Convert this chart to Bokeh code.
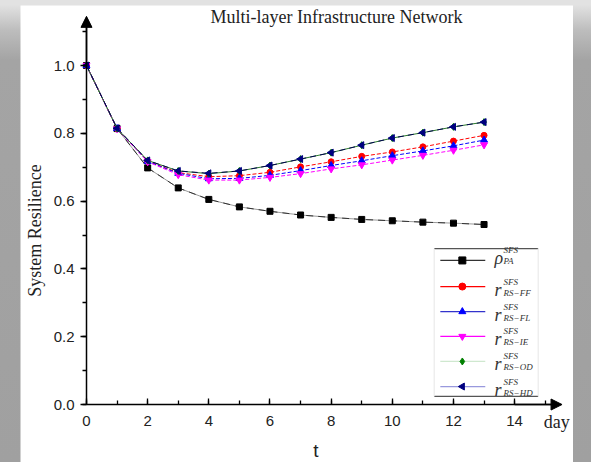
from bokeh.plotting import figure
from bokeh.layouts import column
from bokeh.models import Arrow, NormalHead, FixedTicker, NumeralTickFormatter
from bokeh.core.properties import value
from bokeh.embed import file_html
from bokeh.resources import INLINE
import math

# ---- data ----
t = list(range(14))
pa = [1.0, 0.814, 0.698, 0.639, 0.605, 0.583, 0.570, 0.559, 0.552, 0.546, 0.542, 0.538, 0.535, 0.531]
ff = [1.0, 0.814, 0.718, 0.684, 0.672, 0.675, 0.685, 0.701, 0.716, 0.732, 0.745, 0.760, 0.777, 0.794]
fl = [1.0, 0.814, 0.717, 0.682, 0.666, 0.667, 0.676, 0.690, 0.705, 0.719, 0.734, 0.748, 0.763, 0.780]
ie = [1.0, 0.813, 0.716, 0.678, 0.662, 0.662, 0.670, 0.681, 0.695, 0.707, 0.721, 0.735, 0.750, 0.766]
od = [1.0, 0.814, 0.720, 0.689, 0.681, 0.689, 0.705, 0.724, 0.743, 0.765, 0.786, 0.802, 0.819, 0.833]
hd = [1.0, 0.815, 0.720, 0.689, 0.682, 0.689, 0.705, 0.724, 0.743, 0.765, 0.786, 0.802, 0.819, 0.833]

x_ticks = [0, 2, 4, 6, 8, 10, 12, 14]
y_ticks = [0.0, 0.2, 0.4, 0.6, 0.8, 1.0]

leg_main = ["ρ", "r", "r", "r", "r", "r"]
leg_sup = ["SFS", "SFS", "SFS", "SFS", "SFS", "SFS"]
leg_sub = ["PA", "RS−FF", "RS−FL", "RS−IE", "RS−OD", "RS−HD"]

SERIF = "Liberation Serif"
SANS = "Liberation Sans"

# frame covers the whole figure; axes are pinned at 0
p = figure(width=553, height=457, x_range=(-2.158, 15.925), y_range=(-0.171, 1.177),
           output_backend="svg", toolbar_location=None,
           min_border_left=0, min_border_right=0, min_border_top=0, min_border_bottom=0)
p.margin = (5, 18, 0, 20)
p.outline_line_color = None
p.grid.visible = False
p.background_fill_color = "white"
p.border_fill_color = "white"

for ax in (p.xaxis[0], p.yaxis[0]):
    ax.fixed_location = 0
    ax.axis_line_color = "black"
    ax.axis_line_width = 1.5
    ax.major_tick_line_color = "black"
    ax.minor_tick_line_color = "black"
    ax.major_tick_line_width = 1.3
    ax.minor_tick_line_width = 1.3
    ax.major_label_text_font = SANS
    ax.major_label_text_font_size = "15px"
    ax.major_label_text_color = "#222222"

p.xaxis.bounds = (0, 15.4)
p.xaxis.ticker = FixedTicker(ticks=x_ticks, minor_ticks=list(range(0, 16)))
p.xaxis.major_tick_in = 6
p.xaxis.major_tick_out = 0
p.xaxis.minor_tick_in = 4
p.xaxis.minor_tick_out = 0
p.xaxis.major_label_standoff = 11

p.yaxis.bounds = (0, 1.13)
p.yaxis.ticker = FixedTicker(ticks=y_ticks, minor_ticks=[round(0.1 * i, 1) for i in range(12)])
p.yaxis.formatter = NumeralTickFormatter(format="0.0")
p.yaxis.major_tick_in = 0
p.yaxis.major_tick_out = 6
p.yaxis.minor_tick_in = 0
p.yaxis.minor_tick_out = 4
p.yaxis.major_label_standoff = 6

# axis arrows
p.add_layout(Arrow(end=NormalHead(size=11, fill_color="black", line_color="black"),
                   x_start=0, y_start=1.0, x_end=0, y_end=1.145, line_width=1.5, line_color="black"))
p.add_layout(Arrow(end=NormalHead(size=11, fill_color="black", line_color="black"),
                   x_start=14, y_start=0, x_end=15.55, y_end=0, line_width=1.5, line_color="black"))

# series
p.line(t, pa, line_color="#999999", line_width=1)
p.line(t, pa, line_color="#333333", line_width=1, line_dash="7 5")
p.scatter(t, pa, marker="square", size=6, fill_color="black", line_color="black")

p.line(t, ff, line_color="red", line_width=1, line_dash="4 2")
p.scatter(t, ff, marker="circle", size=6, fill_color="red", line_color="red")

p.line(t, fl, line_color="blue", line_width=1, line_dash="4 2")
p.scatter(t, fl, marker="triangle", size=7, fill_color="blue", line_color="blue")

p.line(t, ie, line_color="magenta", line_width=1, line_dash="4 2")
p.scatter(t, ie, marker="inverted_triangle", size=7, fill_color="magenta", line_color="magenta")

p.line(t, od, line_color="#2a7a2a", line_width=1)
p.scatter(t, od, marker="diamond", size=7, fill_color="green", line_color="green")

p.line(t, hd, line_color="#000050", line_width=1, line_dash="6 4")
p.scatter(t, hd, marker="triangle", angle=math.pi / 2, size=7, fill_color="#000080", line_color="#000080")

# ---- custom legend ----
px = 1 / 339.0
leg_y = [0.425, 0.348, 0.274, 0.201, 0.127, 0.053]
main_off = [-2, 3, 3, 3, 3, 3]   # px below row (baseline, empirical)
leg_line_col = ["#333333", "red", "#3333cc", "magenta", "#cfe8cf", "#9999dd"]
leg_mk = ["square", "circle", "triangle", "inverted_triangle", "diamond", "triangle"]
leg_mk_col = ["black", "red", "blue", "magenta", "green", "#000080"]
leg_angle = [0, 0, 0, 0, 0, math.pi / 2]

p.segment(x0=[11.37, 11.37], y0=[0.460, 0.024], x1=[14.77, 14.77], y1=[0.460, 0.024],
          line_color="#555555", line_width=1.3)
p.segment(x0=[11.37, 14.77], y0=[0.024, 0.024], x1=[11.37, 14.77], y1=[0.460, 0.460],
          line_color="#e6e6e6", line_width=1)
p.segment(x0=[11.57] * 6, y0=leg_y, x1=[13.04] * 6, y1=leg_y, line_color=leg_line_col, line_width=1.2)
for i in range(6):
    p.scatter([12.29], [leg_y[i]], marker=leg_mk[i], angle=leg_angle[i], size=7,
              fill_color=leg_mk_col[i], line_color=leg_mk_col[i])
p.text(x=[13.34] * 6, y=[v - o * px for v, o in zip(leg_y, main_off)], text=leg_main,
       text_font=value(SERIF), text_font_style="italic", text_font_size="18px",
       text_color="#333333", text_baseline="alphabetic", text_align="left")
p.text(x=[13.64] * 6, y=[v - (o - 8) * px for v, o in zip(leg_y, main_off)], text=leg_sup,
       text_font=value(SERIF), text_font_style="italic", text_font_size="9px",
       text_color="#333333", text_baseline="alphabetic", text_align="left")
p.text(x=[13.64] * 6, y=[v - (o + 3) * px for v, o in zip(leg_y, main_off)], text=leg_sub,
       text_font=value(SERIF), text_font_style="italic", text_font_size="9px",
       text_color="#333333", text_baseline="alphabetic", text_align="left")

# titles and axis labels as text
p.text(x=[8.175], y=[1.143], text=["Multi-layer Infrastructure Network"],
       text_font=value(SERIF), text_font_size="18px", text_color="#222222",
       text_baseline="middle", text_align="center")
p.text(x=[14.95], y=[-0.053], text=["day"],
       text_font=value(SERIF), text_font_size="18px", text_color="#222222",
       text_baseline="middle", text_align="left")
p.text(x=[7.5], y=[-0.135], text=["t"],
       text_font=value(SANS), text_font_size="19px", text_color="#222222",
       text_baseline="middle", text_align="center")
p.text(x=[-1.7], y=[0.513], text=["System Resilience"], angle=math.pi / 2,
       text_font=value(SERIF), text_font_size="18px", text_color="#222222",
       text_baseline="middle", text_align="center")

layout = column(p, styles={"background": "linear-gradient(to bottom, #e2e2e2 0px, #e2e2e2 5px, #bdbdbd 30px, #a4a4a4 60px, #a0a0a0 100%)"})

open("out.html", "w").write(file_html(layout, INLINE))
